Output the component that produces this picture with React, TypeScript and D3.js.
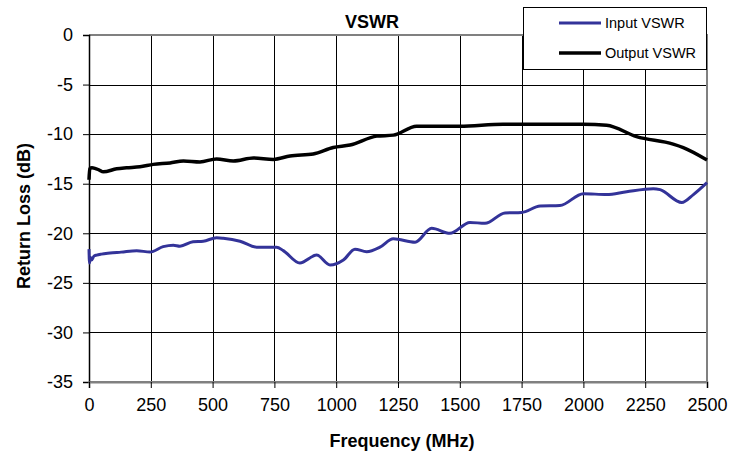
import { useEffect, useRef } from "react";
import * as d3 from "d3";

// Frequency (MHz) / return loss (dB)
const inputFreq = [0, 2, 5, 10, 20, 31, 50, 85, 130, 193, 247, 300, 341, 368, 421, 462, 516, 543, 611, 678, 759, 786, 853, 921, 975, 1029, 1076, 1123, 1177, 1231, 1319, 1386, 1460, 1541, 1602, 1683, 1750, 1825, 1905, 2000, 2094, 2175, 2283, 2310, 2398, 2445, 2500];
const inputLoss = [-21.6, -23.0, -22.4, -22.7, -22.3, -22.2, -22.1, -22.0, -21.9, -21.75, -21.9, -21.35, -21.2, -21.3, -20.85, -20.8, -20.45, -20.5, -20.8, -21.4, -21.4, -21.75, -23.0, -22.2, -23.2, -22.7, -21.6, -21.85, -21.4, -20.55, -20.9, -19.5, -20.0, -18.9, -19.0, -17.95, -17.9, -17.25, -17.2, -16.0, -16.1, -15.8, -15.5, -15.6, -16.9, -16.1, -14.9];

const outputFreq = [0, 3, 12, 24, 40, 58, 112, 152, 206, 260, 328, 382, 449, 516, 584, 665, 746, 813, 907, 988, 1056, 1164, 1231, 1325, 1500, 1675, 2000, 2094, 2215, 2363, 2404, 2500];
const outputLoss = [-14.6, -13.5, -13.4, -13.45, -13.6, -13.8, -13.5, -13.4, -13.3, -13.05, -12.9, -12.7, -12.8, -12.5, -12.7, -12.4, -12.55, -12.2, -12.0, -11.35, -11.1, -10.2, -10.1, -9.2, -9.2, -9.0, -9.0, -9.1, -10.25, -11.0, -11.35, -12.6];

const xTicks = [0, 250, 500, 750, 1000, 1250, 1500, 1750, 2000, 2250, 2500];
const yTicks = [0, -5, -10, -15, -20, -25, -30, -35];

const seriesNames = ["Input VSWR", "Output VSWR"];
const seriesColors = ["#333399", "#000000"];

const W = 741;
const H = 456;
const left = 89;
const right = 707;
const top = 35;
const bottom = 382;

export default function App() {
  const svgRef = useRef<SVGSVGElement>(null);

  useEffect(() => {
    const svg = d3.select(svgRef.current);
    if (!svg.node()) return;
    svg.selectAll("*").remove();

    const x = d3.scaleLinear().domain([0, 2500]).range([left, right]);
    const y = d3.scaleLinear().domain([-35, 0]).range([bottom, top]);
    const font = "'Liberation Sans', Arial, sans-serif";

    svg.append("rect").attr("width", W).attr("height", H).attr("fill", "#fff");

    // grid
    const grid = svg.append("g").attr("shape-rendering", "crispEdges");
    grid.selectAll("line.v")
      .data(xTicks.slice(1, -1))
      .join("line")
      .attr("x1", (d) => Math.round(x(d)) + 0.5)
      .attr("x2", (d) => Math.round(x(d)) + 0.5)
      .attr("y1", top)
      .attr("y2", bottom)
      .attr("stroke", "#000")
      .attr("stroke-width", 1);
    grid.selectAll("line.h")
      .data(yTicks.slice(1, -1))
      .join("line")
      .attr("x1", left)
      .attr("x2", right)
      .attr("y1", (d) => Math.round(y(d)) + 0.5)
      .attr("y2", (d) => Math.round(y(d)) + 0.5)
      .attr("stroke", "#000")
      .attr("stroke-width", 1);

    // plot border (gray) top/right/bottom
    svg.append("path")
      .attr("d", `M${left},${top}H${right}V${bottom}H${left}`)
      .attr("fill", "none")
      .attr("stroke", "#808080")
      .attr("stroke-width", 2);

    // axes
    const yAxis = svg.append("g").attr("transform", `translate(${left},0)`)
      .call(d3.axisLeft(y).tickValues(yTicks).tickSize(6).tickPadding(10).tickFormat((d) => String(d)));
    yAxis.select(".domain").attr("stroke", "#000").attr("stroke-width", 1.5);
    yAxis.selectAll("text").attr("font-family", font).attr("font-size", 18).attr("fill", "#000");

    const xAxis = svg.append("g").attr("transform", `translate(0,${bottom})`)
      .call(d3.axisBottom(x).tickValues(xTicks).tickSize(6).tickPadding(10).tickFormat((d) => String(d)));
    xAxis.select(".domain").attr("stroke", "#808080").attr("stroke-width", 2);
    xAxis.selectAll("text").attr("font-family", font).attr("font-size", 18).attr("fill", "#000");

    // series
    const series = [
      { f: inputFreq, v: inputLoss, color: seriesColors[0], w: 3 },
      { f: outputFreq, v: outputLoss, color: seriesColors[1], w: 3.5 },
    ];
    const line = d3.line<[number, number]>()
      .x((d) => x(d[0]))
      .y((d) => y(d[1]))
      .curve(d3.curveMonotoneX);
    series.forEach((s) => {
      svg.append("path")
        .datum(s.f.map((f, i) => [f, s.v[i]] as [number, number]))
        .attr("d", line)
        .attr("fill", "none")
        .attr("stroke", s.color)
        .attr("stroke-width", s.w)
        .attr("stroke-linejoin", "round");
    });

    // title and axis labels
    svg.append("text")
      .attr("x", 372).attr("y", 28)
      .attr("text-anchor", "middle")
      .attr("font-family", font).attr("font-weight", "bold").attr("font-size", 18)
      .text("VSWR");
    svg.append("text")
      .attr("x", 402).attr("y", 447)
      .attr("text-anchor", "middle")
      .attr("font-family", font).attr("font-weight", "bold").attr("font-size", 18)
      .text("Frequency (MHz)");
    svg.append("text")
      .attr("transform", `translate(30,216) rotate(-90)`)
      .attr("text-anchor", "middle")
      .attr("font-family", font).attr("font-weight", "bold").attr("font-size", 18)
      .text("Return Loss (dB)");

    // legend
    const lg = svg.append("g");
    lg.append("rect")
      .attr("x", 523.5).attr("y", 7.5).attr("width", 183).attr("height", 62)
      .attr("fill", "#fff").attr("stroke", "#000").attr("stroke-width", 1);
    seriesNames.forEach((name, i) => {
      const yy = 23 + i * 30;
      lg.append("line")
        .attr("x1", 559).attr("x2", 601).attr("y1", yy).attr("y2", yy)
        .attr("stroke", seriesColors[i]).attr("stroke-width", i === 0 ? 3 : 3.5);
      lg.append("text")
        .attr("x", 605).attr("y", yy + 5)
        .attr("font-family", font).attr("font-size", 14.5)
        .text(name);
    });
  }, []);

  return (
    <svg
      ref={svgRef}
      width={W}
      height={H}
      style={{ position: "absolute", left: 0, top: 0 }}
    />
  );
}
